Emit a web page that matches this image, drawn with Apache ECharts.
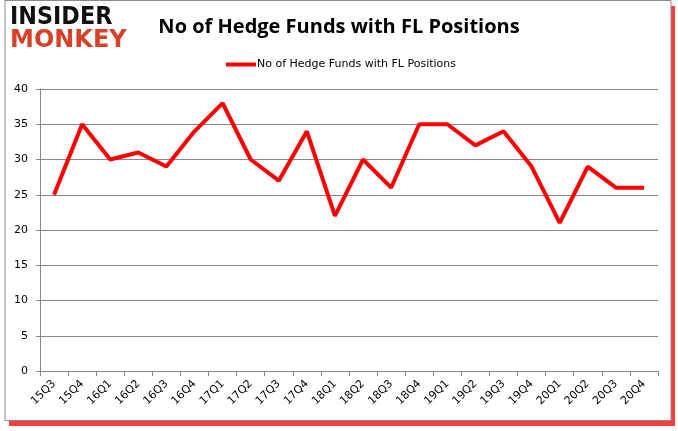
<!DOCTYPE html>
<html>
<head>
<meta charset="utf-8">
<script src="https://cdn.jsdelivr.net/npm/echarts@6/dist/echarts.min.js"></script>
<style>
html,body{margin:0;padding:0;background:#fff;}
#chart{width:678px;height:431px;}
</style>
</head>
<body>
<div id="chart"></div>
<script>
const categories = ['15Q3','15Q4','16Q1','16Q2','16Q3','16Q4','17Q1','17Q2','17Q3','17Q4','18Q1','18Q2','18Q3','18Q4','19Q1','19Q2','19Q3','19Q4','20Q1','20Q2','20Q3','20Q4'];
const hedgeFunds = [25,35,30,31,29,34,38,30,27,34,22,30,26,35,35,32,34,29,21,29,26,26];
const seriesName = 'No of Hedge Funds with FL Positions';
const titleText = 'No of Hedge Funds with FL Positions';

const chart = echarts.init(document.getElementById('chart'));
chart.setOption({
  animation: false,
  backgroundColor: '#fff',
  title: {
    text: titleText,
    left: 'center',
    top: 12,
    textStyle: {fontFamily: 'Open Sans', fontWeight: 'bold', fontSize: 20, color: '#000'}
  },
  legend: {
    data: [seriesName],
    top: 54,
    left: 221,
    itemWidth: 30,
    itemHeight: 4,
    itemGap: 4,
    icon: 'rect',
    textStyle: {fontFamily: 'DejaVu Sans', fontSize: 11, color: '#000', padding: [0,0,0,-4]}
  },
  grid: {left: 40, right: 20, top: 89, bottom: 60},
  xAxis: {
    type: 'category',
    data: categories,
    boundaryGap: true,
    axisLine: {lineStyle: {color: '#868686'}},
    axisTick: {show: true, length: 5, lineStyle: {color: '#868686'}},
    axisLabel: {rotate: 45, fontFamily: 'DejaVu Sans', fontSize: 11, color: '#000', margin: 11}
  },
  yAxis: {
    type: 'value',
    min: 0, max: 40, interval: 5,
    axisLine: {show: true, lineStyle: {color: '#868686'}},
    axisTick: {show: true, length: 4, lineStyle: {color: '#868686'}},
    splitLine: {lineStyle: {color: '#868686', width: 1}},
    axisLabel: {fontFamily: 'DejaVu Sans', fontSize: 11, color: '#000', margin: 12}
  },
  series: [{
    name: seriesName,
    type: 'line',
    data: hedgeFunds,
    symbol: 'none',
    lineStyle: {color: '#ff0000', width: 4},
    itemStyle: {color: '#ff0000'}
  }],
  graphic: [
    {type: 'rect', z: -10, shape: {x: 9, y: 6, width: 666, height: 420}, style: {fill: '#ff1a1a', opacity: 0.85}},
    {type: 'rect', z: -9, shape: {x: 5, y: 0.5, width: 666, height: 420}, style: {fill: '#fff', stroke: '#8a8a8a', lineWidth: 1}},
    {type: 'text', x: 10, y: 6, scaleX: 0.93, style: {text: 'INSIDER', fontFamily: 'DejaVu Sans', fontWeight: 'bold', fontSize: 24, fill: '#111'}},
    {type: 'text', x: 10, y: 29, style: {text: 'MONKEY', fontFamily: 'DejaVu Sans', fontWeight: 'bold', fontSize: 24, fill: '#d9402a'}}
  ]
});
</script>
</body>
</html>
